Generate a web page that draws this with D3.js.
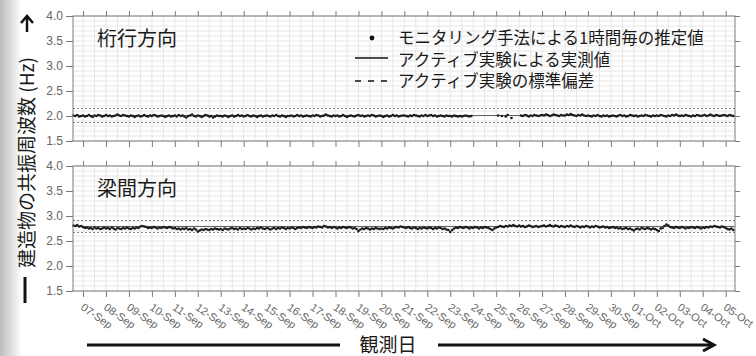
<!DOCTYPE html>
<html>
<head>
<meta charset="utf-8">
<script src="https://cdn.jsdelivr.net/npm/d3@7"></script>
<style>
  body { margin: 0; background: #fff; }
  svg { display: block; }
</style>
</head>
<body>
<div id="chart"></div>
<script>
// hourly-ish estimates (every 2 h from 06-Sep 14:00)
var girderValues = [
  2.01,2.00,2.02,1.99,2.00,
  2.01,1.99,2.00,2.02,2.00,1.98,2.01,2.00,2.02,2.01,1.99,2.00, // 07-Sep
  2.02,2.00,2.01,1.99,2.00,2.01,2.03,2.01,2.00,2.02,2.01,2.00,
  1.99,2.01,2.00,1.98,2.00,2.01,1.99,2.00,2.02,2.00,1.99,2.01,
  2.00,2.02,2.01,1.99,2.00,2.01,2.00,1.98,2.00,2.01,1.99,2.00,
  2.01,1.99,2.02,2.00,2.01,1.99,1.97,2.00,2.01,2.03,2.00,1.99,
  2.01,2.00,1.98,2.00,2.02,2.01,1.99,2.00,1.97,1.99,2.01,2.00,
  2.00,1.99,2.01,2.00,1.98,2.00,2.01,1.99,2.00,2.02,2.00,2.01,
  1.99,2.00,2.02,2.00,1.99,2.01,2.00,1.98,2.00,2.01,1.99,2.00,
  2.01,2.00,1.99,2.01,2.00,2.02,2.00,1.99,2.01,2.00,1.98,2.00,
  2.00,2.01,1.99,2.00,2.02,2.00,2.01,1.99,2.00,2.01,2.00,1.99,
  2.01,2.00,2.02,2.01,1.99,2.00,2.01,2.03,2.01,2.00,1.99,2.01,
  2.00,2.01,1.99,2.00,2.02,2.00,1.98,2.00,2.01,2.00,1.99,2.01,
  2.02,2.00,2.01,1.99,2.00,2.01,2.00,2.02,2.01,1.99,2.00,2.01,
  2.00,1.98,2.00,2.01,1.99,2.00,2.02,2.00,2.01,1.99,2.00,2.01,
  2.01,2.00,1.99,2.01,2.00,2.02,2.01,2.00,1.99,2.01,2.00,2.02,
  2.00,2.01,2.02,2.00,2.01,1.99,2.00,2.01,2.00,1.99,2.01,2.00,
  2.00,1.99,2.01,2.00,1.99,2.00,1.99,2.00,2.01,2.00,1.99,2.00, // 23-Sep
  null,null,null,null,null,null,null,null,null,null,null,null, // 24-Sep
  null,2.01,null,2.00,null,1.99,2.02,null,1.96,null,null,null,
  null,2.01,2.00,2.02,2.01,1.99,2.01,2.00,2.02,2.01,2.00,2.01, // 26-Sep
  2.02,2.01,2.03,2.02,2.00,2.01,2.03,2.02,2.01,2.00,2.02,2.01,
  2.01,2.03,2.02,2.04,2.02,2.01,2.00,2.02,2.01,2.03,2.01,2.00,
  2.01,2.00,1.99,2.01,2.00,2.02,2.00,1.99,2.01,2.00,2.01,1.99,
  2.00,2.01,2.00,1.99,2.01,2.02,2.00,2.01,1.99,2.00,2.02,2.01,
  2.00,2.01,1.99,2.00,2.01,2.00,2.02,2.01,2.00,1.99,2.01,2.00, // 01-Oct
  2.01,2.00,2.02,2.01,2.00,1.99,2.01,2.00,2.02,2.01,2.03,2.01,
  2.00,2.01,2.00,2.02,2.01,2.00,1.99,2.01,2.00,2.02,2.01,2.00,
  2.01,2.02,2.00,2.01,2.03,2.01,2.00,2.02,2.01,2.00,2.01,2.02,
  2.01,2.00,2.02,2.01,2.00
];
var beamValues = [
  2.81,2.80,2.82,2.79,2.80,
  2.78,2.76,2.77,2.75,2.76,2.74,2.77,2.75,2.76,2.74,2.75,2.77, // 07-Sep
  2.75,2.76,2.74,2.77,2.75,2.73,2.76,2.75,2.74,2.76,2.75,2.77,
  2.75,2.74,2.76,2.75,2.77,2.76,2.79,2.80,2.79,2.78,2.76,2.77,
  2.76,2.78,2.77,2.75,2.77,2.76,2.78,2.77,2.76,2.78,2.77,2.75,
  2.76,2.74,2.75,2.73,2.75,2.74,2.76,2.73,2.74,2.72,2.75,2.73,
  2.69,2.71,2.73,2.72,2.74,2.73,2.72,2.74,2.73,2.75,2.74,2.73,
  2.74,2.72,2.75,2.74,2.73,2.75,2.76,2.74,2.75,2.73,2.76,2.74,
  2.75,2.74,2.76,2.75,2.73,2.75,2.74,2.76,2.75,2.77,2.75,2.74,
  2.76,2.75,2.73,2.75,2.76,2.74,2.76,2.75,2.77,2.76,2.74,2.76,
  2.75,2.77,2.76,2.74,2.76,2.77,2.76,2.78,2.77,2.76,2.78,2.77,
  2.76,2.78,2.77,2.79,2.78,2.77,2.80,2.79,2.77,2.78,2.76,2.78,
  2.77,2.75,2.77,2.76,2.78,2.77,2.76,2.78,2.77,2.75,2.76,2.74,
  2.70,2.73,2.75,2.74,2.76,2.75,2.73,2.75,2.74,2.76,2.75,2.74,
  2.75,2.74,2.76,2.75,2.77,2.76,2.75,2.77,2.78,2.77,2.79,2.78,
  2.77,2.76,2.78,2.76,2.75,2.77,2.76,2.74,2.76,2.75,2.77,2.76,
  2.75,2.77,2.76,2.74,2.76,2.75,2.77,2.76,2.74,2.75,2.73,2.72,
  2.68,2.72,2.75,2.77,2.76,2.78,2.77,2.76,2.78,2.77,2.75,2.77, // 23-Sep
  2.76,2.78,2.77,2.75,2.77,2.76,2.78,2.77,2.76,2.74,2.72,2.75,
  2.77,2.78,2.80,2.79,2.78,2.80,2.79,2.81,2.80,2.82,2.80,2.79,
  2.81,2.79,2.80,2.78,2.79,2.81,2.80,2.78,2.79,2.80,2.78,2.79,
  2.80,2.81,2.79,2.80,2.82,2.80,2.79,2.81,2.80,2.78,2.80,2.79,
  2.78,2.80,2.79,2.81,2.79,2.78,2.80,2.79,2.77,2.79,2.78,2.80,
  2.79,2.77,2.79,2.78,2.80,2.79,2.77,2.78,2.79,2.77,2.78,2.76,
  2.77,2.78,2.76,2.77,2.75,2.76,2.74,2.75,2.76,2.74,2.75,2.73,
  2.71,2.74,2.75,2.73,2.76,2.75,2.74,2.76,2.75,2.73,2.75,2.74, // 01-Oct
  2.72,2.70,2.75,2.76,2.80,2.83,2.81,2.78,2.77,2.76,2.78,2.77,
  2.76,2.78,2.77,2.75,2.77,2.76,2.78,2.77,2.76,2.78,2.77,2.75,
  2.77,2.76,2.78,2.77,2.79,2.78,2.80,2.79,2.78,2.77,2.79,2.78,
  2.76,2.74,2.73,2.75,2.72
];
// active test: measured value and standard deviation
var panelTitles = ["桁行方向", "梁間方向"];
var activeValues = [2.01, 2.79];
var activeStd = [0.14, 0.12];
var yTicks = [1.5, 2.0, 2.5, 3.0, 3.5, 4.0];
var legendLabels = ["モニタリング手法による1時間毎の推定値", "アクティブ実験による実測値", "アクティブ実験の標準偏差"];

var W = 756, H = 356;
var jp = "'Noto Sans CJK JP', 'Noto Sans', sans-serif";
var num = "'Liberation Sans', Arial, sans-serif";

var svg = d3.select("#chart").append("svg")
    .attr("width", W).attr("height", H);

// photo-like vignette on the left edge
var defs = svg.append("defs");
var grad = defs.append("linearGradient").attr("id", "edge");
grad.append("stop").attr("offset", "0%").attr("stop-color", "#bcbcbc");
grad.append("stop").attr("offset", "100%").attr("stop-color", "#fff");
svg.append("rect").attr("width", W).attr("height", H).attr("fill", "#fff");
svg.append("rect").attr("width", 22).attr("height", H).attr("fill", "url(#edge)");

var x = d3.scaleTime()
    .domain([new Date(2015, 8, 6, 13, 30), new Date(2015, 9, 5, 9, 45)])
    .range([73, 735]);
var t0 = new Date(2015, 8, 6, 14, 0);
function timeAt(i) { return d3.timeHour.offset(t0, 2 * i); }

var panels = [
  {top: 16, values: girderValues},
  {top: 166, values: beamValues}
];

panels.forEach(function(p, k) {
    var y = d3.scaleLinear().domain([1.5, 4.0]).range([p.top + 125, p.top]);
    var g = svg.append("g");

    // grid
    g.selectAll(".hg").data(d3.range(15, 41).map(function(d) { return d / 10; }))
      .enter().append("line")
      .attr("x1", 73).attr("x2", 735)
      .attr("y1", function(d) { return y(d); }).attr("y2", function(d) { return y(d); })
      .style("stroke", "#e6e6e6").style("stroke-width", 1);
    g.selectAll(".vg").data(x.ticks(d3.timeHour.every(12)))
      .enter().append("line")
      .attr("x1", function(d) { return x(d); }).attr("x2", function(d) { return x(d); })
      .attr("y1", y(4.0)).attr("y2", y(1.5))
      .style("stroke", "#e6e6e6").style("stroke-width", 1);

    // std dev lines
    [activeValues[k] + activeStd[k], activeValues[k] - activeStd[k]].forEach(function(v) {
        g.append("line")
          .attr("x1", 73).attr("x2", 735).attr("y1", y(v)).attr("y2", y(v))
          .style("stroke", "#8a8a8a").style("stroke-width", 1)
          .style("stroke-dasharray", "2,2");
    });
    // measured value
    g.append("line")
      .attr("x1", 73).attr("x2", 735)
      .attr("y1", y(activeValues[k])).attr("y2", y(activeValues[k]))
      .style("stroke", "#666").style("stroke-width", 1);

    // hourly estimates
    var pts = p.values.map(function(v, i) { return {t: timeAt(i), v: v}; })
        .filter(function(d) { return d.v !== null && x(d.t) <= 735; });
    g.selectAll("circle").data(pts).enter().append("circle")
      .attr("cx", function(d) { return x(d.t); })
      .attr("cy", function(d) { return y(d.v); })
      .attr("r", 1.35)
      .style("fill", "#1a1a1a");

    // frame
    g.append("rect")
      .attr("x", 73).attr("y", p.top).attr("width", 662).attr("height", 125)
      .style("fill", "none").style("stroke", "#7a7a7a").style("stroke-width", 1);

    var dayTicks = x.ticks(d3.timeDay.every(1));
    var left = g.append("g").attr("transform", "translate(73,0)")
      .call(d3.axisLeft(y).tickValues(yTicks).tickFormat(d3.format(".1f")).tickSize(7).tickPadding(3));
    var right = g.append("g").attr("transform", "translate(735,0)")
      .call(d3.axisRight(y).tickValues(yTicks).tickFormat("").tickSize(5));
    var topAx = g.append("g").attr("transform", "translate(0," + p.top + ")")
      .call(d3.axisTop(x).tickValues(dayTicks).tickFormat("").tickSize(5));
    var botAx = g.append("g").attr("transform", "translate(0," + (p.top + 125) + ")")
      .call(d3.axisBottom(x).tickValues(dayTicks).tickFormat("").tickSize(6));
    [left, right, topAx, botAx].forEach(function(a) {
        a.select(".domain").remove();
        a.selectAll("line").style("stroke", "#7a7a7a");
    });
    left.selectAll("text").style("font-family", num).style("font-size", "12px").style("fill", "#666");

    // panel title
    svg.append("text").attr("x", 97).attr("y", p.top + 30)
      .style("font-family", jp).style("font-size", "20px").style("fill", "#1a1a1a")
      .text(panelTitles[k]);

    if (k === 1) {
        svg.append("g").selectAll("text").data(dayTicks).enter().append("text")
          .attr("transform", function(d) { return "translate(" + (x(d) - 3) + ",309) rotate(35)"; })
          .style("font-family", num).style("font-size", "11px").style("fill", "#666")
          .text(d3.timeFormat("%d-%b"));
    }
});

// legend
var lg = svg.append("g");
lg.append("circle").attr("cx", 372).attr("cy", 38).attr("r", 2.4).style("fill", "#111");
lg.append("line").attr("x1", 355).attr("x2", 388).attr("y1", 58).attr("y2", 58)
  .style("stroke", "#111").style("stroke-width", 1.5);
lg.append("line").attr("x1", 355).attr("x2", 390).attr("y1", 81).attr("y2", 81)
  .style("stroke", "#111").style("stroke-width", 1.5).style("stroke-dasharray", "6,7");
lg.selectAll("text").data(legendLabels).enter().append("text")
  .attr("x", 398).attr("y", function(d, i) { return 44 + i * 21.5; })
  .style("font-family", jp).style("font-size", "16.5px").style("fill", "#1a1a1a")
  .text(function(d) { return d; });

// y axis label with arrow
svg.append("line").attr("x1", 25).attr("x2", 25).attr("y1", 303).attr("y2", 277)
  .style("stroke", "#111").style("stroke-width", 3);
svg.append("text").attr("transform", "translate(34,268) rotate(-90)")
  .style("font-family", jp).style("font-size", "19px").style("fill", "#1a1a1a")
  .text("建造物の共振周波数 (Hz)");
svg.append("line").attr("x1", 27).attr("x2", 27).attr("y1", 32).attr("y2", 18)
  .style("stroke", "#111").style("stroke-width", 2.5);
svg.append("path").attr("d", "M21,23 L27,16 L33,23")
  .style("fill", "none").style("stroke", "#111").style("stroke-width", 2.5);

// x axis label with arrow
svg.append("line").attr("x1", 87).attr("x2", 340).attr("y1", 345).attr("y2", 345)
  .style("stroke", "#111").style("stroke-width", 3);
svg.append("line").attr("x1", 438).attr("x2", 713).attr("y1", 345).attr("y2", 345)
  .style("stroke", "#111").style("stroke-width", 3);
svg.append("path").attr("d", "M703,339 L714,345 L703,351")
  .style("fill", "none").style("stroke", "#111").style("stroke-width", 3);
svg.append("text").attr("x", 388).attr("y", 352).attr("text-anchor", "middle")
  .style("font-family", jp).style("font-size", "19px").style("fill", "#1a1a1a")
  .text("観測日");
</script>
</body>
</html>
